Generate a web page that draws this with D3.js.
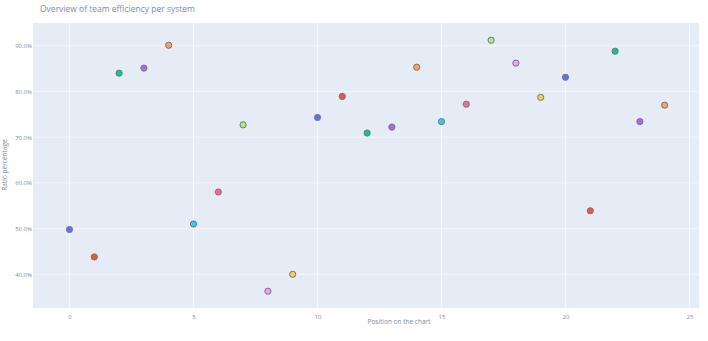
<!DOCTYPE html>
<html>
<head>
<meta charset="utf-8">
<script src="https://cdn.jsdelivr.net/npm/d3@7"></script>
<style>
  body { margin: 0; background: #fff; }
  svg { display: block; font-family: "Open Sans", Arial, sans-serif; }
</style>
</head>
<body>
<div id="chart"></div>
<script>
// Chart data
const positions = d3.range(25);
const ratios = [49.8, 43.8, 84.0, 85.1, 90.1, 51.0, 58.0, 72.7, 36.3, 40.0,
                74.3, 78.9, 70.9, 72.2, 85.3, 73.4, 77.2, 91.2, 86.2, 78.7,
                83.1, 53.9, 88.8, 73.4, 77.0];
const xTicks = [0, 5, 10, 15, 20, 25];
const yTicks = [40, 50, 60, 70, 80, 90];

// Plotly default palette
const palette = ['#636efa', '#EF553B', '#00cc96', '#ab63fa', '#FFA15A',
                 '#19d3f3', '#FF6692', '#B6E880', '#FF97FF', '#FECB52'];

const width = 708, height = 341;
const plot = { left: 33, right: 699, top: 23, bottom: 308 };
const textColor = '#7d8ba3';

const svg = d3.select('#chart').append('svg')
    .attr('width', width)
    .attr('height', height);

// Scales
const x = d3.scaleLinear()
    .domain([0, 25])
    .range([69.5, 689.5]);

const y = d3.scaleLinear()
    .domain([40, 90])
    .range([274.3, 45.7]);

// Background
svg.append('rect')
    .attr('x', plot.left)
    .attr('y', plot.top)
    .attr('width', plot.right - plot.left)
    .attr('height', plot.bottom - plot.top)
    .attr('fill', '#e5ecf6');

// Grid lines
svg.append('g')
    .selectAll('line')
    .data(xTicks)
    .enter()
    .append('line')
    .attr('x1', d => x(d))
    .attr('x2', d => x(d))
    .attr('y1', plot.top)
    .attr('y2', plot.bottom)
    .attr('stroke', '#f4f7fb')
    .attr('stroke-width', 1);

svg.append('g')
    .selectAll('line')
    .data(yTicks)
    .enter()
    .append('line')
    .attr('x1', plot.left)
    .attr('x2', plot.right)
    .attr('y1', d => y(d))
    .attr('y2', d => y(d))
    .attr('stroke', '#f4f7fb')
    .attr('stroke-width', 1);

// Axes (labels only, no domain lines)
const xAxis = svg.append('g')
    .attr('transform', `translate(0,${plot.bottom})`)
    .call(d3.axisBottom(x).tickValues(xTicks).tickSize(0).tickPadding(7));

const yAxis = svg.append('g')
    .attr('transform', `translate(${plot.left},0)`)
    .call(d3.axisLeft(y).tickValues(yTicks).tickSize(0).tickPadding(1)
        .tickFormat(d => d.toFixed(1) + '%'));

[xAxis, yAxis].forEach(a => {
    a.select('.domain').remove();
    a.selectAll('text')
        .style('font-size', '6px')
        .style('fill', textColor)
        .style('font-family', '"Open Sans", Arial, sans-serif');
});

// Points
svg.append('g')
    .selectAll('circle')
    .data(positions)
    .enter()
    .append('circle')
    .attr('cx', d => x(d))
    .attr('cy', d => y(ratios[d]))
    .attr('r', 3.1)
    .attr('fill', d => palette[d % palette.length])
    .attr('stroke', '#6f7780')
    .attr('stroke-width', 1);

// Title
svg.append('text')
    .attr('x', 40)
    .attr('y', 12)
    .style('font-size', '8.5px')
    .style('fill', textColor)
    .text('Overview of team efficiency per system');

// Axis titles
svg.append('text')
    .attr('x', 399)
    .attr('y', 324)
    .attr('text-anchor', 'middle')
    .style('font-size', '6.5px')
    .style('fill', textColor)
    .text('Position on the chart');

svg.append('text')
    .attr('transform', `translate(7,165) rotate(-90)`)
    .attr('text-anchor', 'middle')
    .style('font-size', '6.5px')
    .style('fill', textColor)
    .text('Ratio percentage');
</script>
</body>
</html>
